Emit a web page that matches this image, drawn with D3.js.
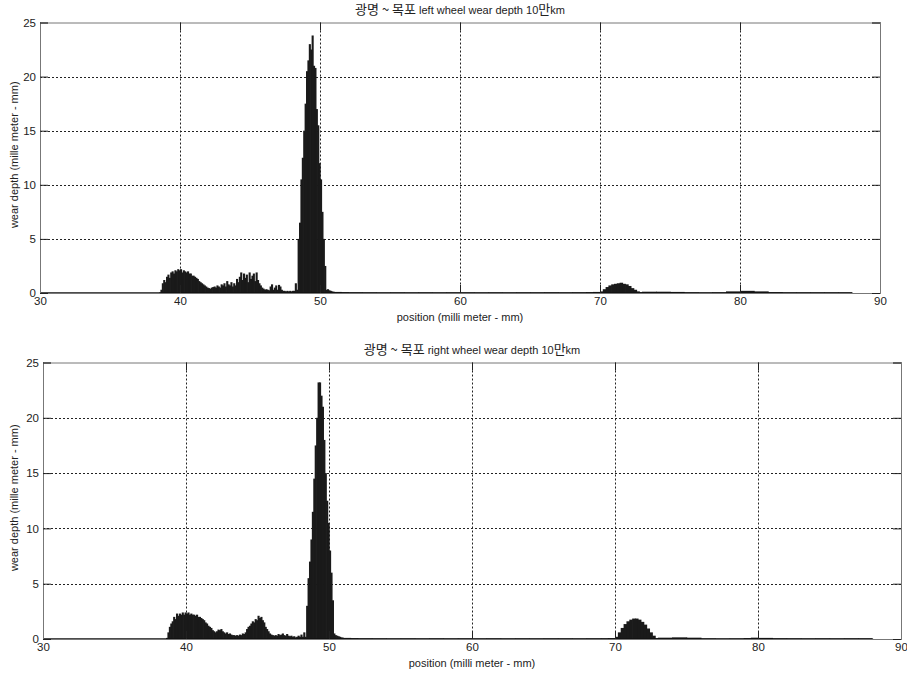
<!DOCTYPE html>
<html>
<head>
<meta charset="utf-8">
<script src="https://cdnjs.cloudflare.com/ajax/libs/d3/7.8.5/d3.min.js"></script>
<style>
  body { margin: 0; background: #fff; }
  svg text { font-family: "Liberation Sans", Arial, "Noto Sans CJK KR", sans-serif; fill: #222; }
</style>
</head>
<body>
<script>
var width = 907,
    height = 674;

// axis ticks
var xTicks = [30, 40, 50, 60, 70, 80, 90];
var yTicks = [0, 5, 10, 15, 20, 25];

// titles / labels
var titlesKo = ["광명 ~ 목포", "광명 ~ 목포"];
var titlesEn = [" left wheel wear depth 10", " right wheel wear depth 10"];
var xLabel = "position (milli meter - mm)";
var yLabel = "wear depth (mille meter - mm)";

// left wheel: [position mm, wear depth mm]
var leftWheel = [
  [30, 0], [38.5, 0.05], [38.6, 0.3], [38.7, 0.9], [38.8, 1.2], [38.9, 1.0],
  [39.0, 1.5], [39.1, 1.7], [39.2, 1.4], [39.3, 1.9], [39.4, 2.0], [39.5, 1.8], [39.6, 2.1], [39.7, 2.0], [39.8, 2.2], [39.9, 2.1],
  [40.0, 2.2], [40.1, 1.9], [40.2, 2.1], [40.3, 2.0], [40.4, 1.9], [40.5, 2.0], [40.6, 1.8], [40.7, 1.8], [40.8, 1.6], [40.9, 1.6],
  [41.0, 1.5], [41.1, 1.4], [41.2, 1.3], [41.3, 1.1], [41.4, 1.0], [41.5, 0.9], [41.6, 0.8], [41.7, 0.7], [41.8, 0.6], [41.9, 0.5],
  [42.0, 0.45], [42.1, 0.4], [42.2, 0.5], [42.3, 0.55], [42.4, 0.6], [42.5, 0.5], [42.6, 0.7], [42.7, 0.6], [42.8, 0.5], [42.9, 0.8],
  [43.0, 0.7], [43.1, 0.9], [43.2, 0.6], [43.3, 1.1], [43.4, 0.8], [43.5, 0.7], [43.6, 1.0], [43.7, 0.6], [43.8, 0.9], [43.9, 0.7],
  [44.0, 1.3], [44.1, 1.0], [44.2, 1.5], [44.3, 1.9], [44.4, 1.2], [44.5, 1.8], [44.6, 1.4], [44.7, 1.7], [44.8, 1.0], [44.9, 1.9],
  [45.0, 1.3], [45.1, 1.6], [45.2, 1.8], [45.3, 1.1], [45.4, 1.9], [45.5, 1.2], [45.6, 0.9], [45.7, 0.7], [45.8, 0.5], [45.9, 0.4],
  [46.0, 0.3], [46.1, 0.35], [46.2, 0.3], [46.3, 0.25], [46.4, 0.6], [46.5, 0.8], [46.6, 0.3], [46.7, 0.5], [46.8, 0.7], [46.9, 0.3],
  [47.0, 0.75], [47.1, 0.6], [47.2, 0.3], [47.3, 0.2], [47.4, 0.2], [47.5, 0.15], [47.6, 0.2], [47.7, 0.15], [47.8, 0.2], [47.9, 0.15],
  [48.0, 0.2], [48.1, 0.2], [48.2, 0.9], [48.3, 0.3], [48.4, 5.0], [48.5, 6.5], [48.6, 10.5], [48.7, 12.5], [48.8, 15.0], [48.9, 17.5],
  [49.0, 20.5], [49.1, 21.5], [49.2, 23.0], [49.3, 22.5], [49.4, 23.8], [49.5, 21.0], [49.6, 20.8], [49.7, 17.0], [49.8, 15.5], [49.9, 12.0],
  [50.0, 10.5], [50.1, 7.5], [50.2, 5.0], [50.3, 2.5], [50.4, 0.3], [50.5, 0.35], [50.6, 0.25], [50.7, 0.2], [50.8, 0.15], [50.9, 0.12],
  [51.0, 0.1], [51.5, 0.08], [52, 0.06], [53, 0.05], [54, 0.04], [55, 0.05], [56, 0.04], [57, 0.05], [58, 0.04], [59, 0.05],
  [60, 0.05], [61, 0.04], [62, 0.05], [63, 0.04], [64, 0.05], [65, 0.05], [66, 0.06], [67, 0.05], [68, 0.06], [69, 0.08], [69.5, 0.1],
  [70.0, 0.15], [70.2, 0.35], [70.4, 0.55], [70.6, 0.7], [70.8, 0.8], [71.0, 0.85], [71.2, 0.9], [71.4, 0.95], [71.6, 0.85], [71.8, 0.8],
  [72.0, 0.65], [72.2, 0.45], [72.4, 0.3], [72.6, 0.15], [72.8, 0.08], [73, 0.12], [74, 0.12], [75, 0.1], [76, 0.06], [77, 0.04],
  [78, 0.06], [79, 0.15], [80, 0.2], [81, 0.15], [82, 0.08], [83, 0.05], [84, 0.05], [85, 0.05], [86, 0.05], [87, 0.05], [88, 0]
];

// right wheel: [position mm, wear depth mm]
var rightWheel = [
  [30, 0], [38.6, 0.1], [38.7, 0.6], [38.8, 1.1], [38.9, 1.4],
  [39.0, 1.6], [39.1, 2.0], [39.2, 1.8], [39.3, 2.3], [39.4, 2.1], [39.5, 2.3], [39.6, 2.2], [39.7, 2.4], [39.8, 2.2], [39.9, 2.4],
  [40.0, 2.3], [40.1, 2.4], [40.2, 2.2], [40.3, 2.3], [40.4, 2.2], [40.5, 2.2], [40.6, 2.1], [40.7, 2.2], [40.8, 2.0], [40.9, 2.0],
  [41.0, 1.9], [41.1, 1.8], [41.2, 1.7], [41.3, 1.5], [41.4, 1.4], [41.5, 1.2], [41.6, 1.1], [41.7, 1.0], [41.8, 0.8], [41.9, 0.7],
  [42.0, 0.6], [42.1, 0.7], [42.2, 0.85], [42.3, 0.8], [42.4, 0.9], [42.5, 0.7], [42.6, 0.6], [42.7, 0.5], [42.8, 0.6], [42.9, 0.45],
  [43.0, 0.5], [43.1, 0.4], [43.2, 0.35], [43.3, 0.35], [43.4, 0.3], [43.5, 0.35], [43.6, 0.3], [43.7, 0.4], [43.8, 0.35], [43.9, 0.5],
  [44.0, 0.45], [44.1, 0.6], [44.2, 0.9], [44.3, 1.1], [44.4, 1.2], [44.5, 1.4], [44.6, 1.6], [44.7, 1.5], [44.8, 1.8], [44.9, 1.7],
  [45.0, 2.1], [45.1, 1.9], [45.2, 2.0], [45.3, 1.7], [45.4, 1.5], [45.5, 1.1], [45.6, 0.9], [45.7, 0.7], [45.8, 0.5], [45.9, 0.4],
  [46.0, 0.35], [46.1, 0.3], [46.2, 0.35], [46.3, 0.3], [46.4, 0.45], [46.5, 0.35], [46.6, 0.4], [46.7, 0.5], [46.8, 0.35], [46.9, 0.3],
  [47.0, 0.45], [47.1, 0.3], [47.2, 0.25], [47.3, 0.3], [47.4, 0.2], [47.5, 0.25], [47.6, 0.15], [47.7, 0.2], [47.8, 0.3], [47.9, 0.2],
  [48.0, 0.4], [48.1, 0.2], [48.2, 0.6], [48.3, 0.2], [48.4, 3.0], [48.5, 5.5], [48.6, 7.0], [48.7, 9.0], [48.8, 11.5], [48.9, 14.5],
  [49.0, 17.5], [49.1, 20.0], [49.2, 23.2], [49.3, 23.2], [49.4, 22.0], [49.5, 21.0], [49.6, 18.0], [49.7, 15.0], [49.8, 12.5], [49.9, 10.5],
  [50.0, 8.0], [50.1, 6.0], [50.2, 3.5], [50.3, 0.5], [50.4, 0.35], [50.5, 0.3], [50.6, 0.25], [50.7, 0.2], [50.8, 0.15], [50.9, 0.12],
  [51.0, 0.1], [51.5, 0.08], [52, 0.06], [53, 0.05], [54, 0.04], [55, 0.05], [56, 0.04], [57, 0.05], [58, 0.04], [59, 0.05],
  [60, 0.04], [61, 0.05], [62, 0.04], [63, 0.05], [64, 0.04], [65, 0.05], [66, 0.05], [67, 0.04], [68, 0.05], [69, 0.06], [69.5, 0.08],
  [70.0, 0.2], [70.2, 0.6], [70.4, 1.0], [70.6, 1.35], [70.8, 1.6], [71.0, 1.75], [71.2, 1.85], [71.4, 1.85], [71.6, 1.75], [71.8, 1.55],
  [72.0, 1.3], [72.2, 0.95], [72.4, 0.6], [72.6, 0.3], [72.8, 0.08], [73, 0.12], [74, 0.15], [75, 0.12], [76, 0.05], [77, 0.03],
  [78, 0.04], [79, 0.08], [79.5, 0.12], [80, 0.1], [81, 0.06], [82, 0.05], [83, 0.04], [84, 0.05], [85, 0.04], [86, 0.05], [87, 0.05], [88, 0]
];

var panels = [
  { data: leftWheel,  left: 40, right: 880, top: 22.5, bottom: 293, ko: titlesKo[0], en: titlesEn[0] },
  { data: rightWheel, left: 43, right: 901, top: 362.5, bottom: 639, ko: titlesKo[1], en: titlesEn[1] }
];

var svg = d3.select("body").append("svg")
    .attr("width", width)
    .attr("height", height);

panels.forEach(function (p) {
    var x = d3.scaleLinear().domain([30, 90]).range([p.left, p.right]);
    var y = d3.scaleLinear().domain([0, 25]).range([p.bottom, p.top]);
    var g = svg.append("g");

    // dotted grid
    g.selectAll(".vgrid").data(xTicks.slice(1, -1)).enter().append("line")
        .attr("x1", function (d) { return Math.round(x(d)) + 0.5; })
        .attr("x2", function (d) { return Math.round(x(d)) + 0.5; })
        .attr("y1", p.top).attr("y2", p.bottom)
        .style("stroke", "#222").style("stroke-dasharray", "2,2");
    g.selectAll(".hgrid").data(yTicks.slice(1, -1)).enter().append("line")
        .attr("y1", function (d) { return Math.round(y(d)) + 0.5; })
        .attr("y2", function (d) { return Math.round(y(d)) + 0.5; })
        .attr("x1", p.left).attr("x2", p.right)
        .style("stroke", "#222").style("stroke-dasharray", "2,2");

    // bars (slightly widened so neighbours overlap, no seams)
    var bars = p.data.slice(0, -1).map(function (d, i) {
        return { x0: d[0], x1: p.data[i + 1][0], v: d[1] };
    });
    g.selectAll(".bar").data(bars).enter().append("rect")
        .attr("x", function (d) { return x(d.x0); })
        .attr("width", function (d) { return x(d.x1) - x(d.x0) + 0.7; })
        .attr("y", function (d) { return y(d.v); })
        .attr("height", function (d) { return y(0) - y(d.v); })
        .style("fill", "#1a1a1a");

    // baseline of the series
    g.append("line")
        .attr("x1", x(p.data[0][0])).attr("x2", x(p.data[p.data.length - 1][0]))
        .attr("y1", y(0)).attr("y2", y(0))
        .style("stroke", "#111").style("stroke-width", 1.5);

    // axes with inward ticks, matlab style
    var xb = d3.axisBottom(x).tickValues(xTicks).tickSize(-8).tickPadding(4).tickFormat(d3.format("d"));
    var xt = d3.axisTop(x).tickValues(xTicks).tickSize(-8).tickFormat("");
    var yl = d3.axisLeft(y).tickValues(yTicks).tickSize(-8).tickPadding(4).tickFormat(d3.format("d"));
    var yr = d3.axisRight(y).tickValues(yTicks).tickSize(-8).tickFormat("");

    [
      g.append("g").attr("transform", "translate(0," + p.bottom + ")").call(xb),
      g.append("g").attr("transform", "translate(0," + p.top + ")").call(xt),
      g.append("g").attr("transform", "translate(" + p.left + ",0)").call(yl),
      g.append("g").attr("transform", "translate(" + p.right + ",0)").call(yr)
    ].forEach(function (a) {
        a.select(".domain").style("stroke", "#777");
        a.selectAll(".tick line").style("stroke", "#222");
        a.selectAll("text").style("font-size", "11.5px").style("fill", "#222")
            .style("font-family", "'Liberation Sans', Arial, sans-serif");
    });

    // title
    var t = svg.append("text")
        .attr("x", (p.left + p.right) / 2)
        .attr("y", p.top - 9)
        .attr("text-anchor", "middle");
    t.append("tspan").text(p.ko).style("font-size", "13px").style("font-family", "'Noto Sans CJK KR', sans-serif");
    t.append("tspan").text(p.en).style("font-size", "11px");
    t.append("tspan").text("만").style("font-size", "13px").style("font-family", "'Noto Sans CJK KR', sans-serif");
    t.append("tspan").text("km").style("font-size", "11px");

    svg.append("text")
        .attr("x", (p.left + p.right) / 2)
        .attr("y", p.bottom + 28)
        .attr("text-anchor", "middle")
        .style("font-size", "11px")
        .text(xLabel);

    svg.append("text")
        .attr("transform", "translate(18," + ((p.top + p.bottom) / 2 - 3) + ") rotate(-90)")
        .attr("text-anchor", "middle")
        .style("font-size", "11px")
        .text(yLabel);
});
</script>
</body>
</html>
